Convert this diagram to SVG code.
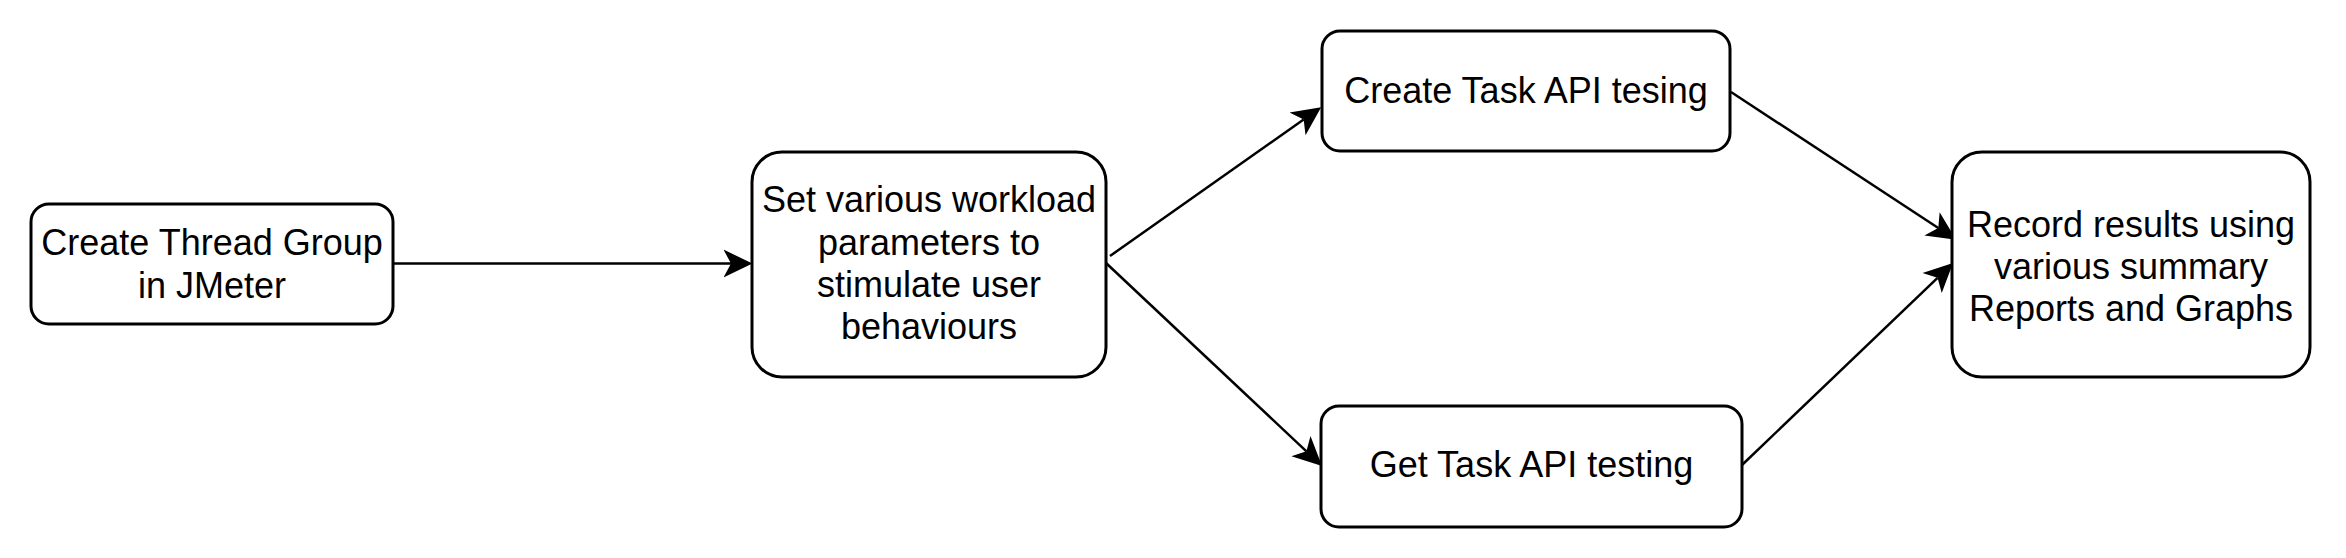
<svg xmlns="http://www.w3.org/2000/svg" width="2346" height="558" viewBox="0 0 2346 558">
<style>
.node rect{fill:#ffffff;stroke:#000000;stroke-width:3}
.node text{font-family:"Liberation Sans",Arial,sans-serif;font-size:36px;fill:#000000;text-anchor:middle}
.edge{fill:none;stroke:#000000;stroke-width:2.5;marker-end:url(#arrow)}
</style>
<defs>
<marker id="arrow" markerUnits="userSpaceOnUse" markerWidth="30" markerHeight="30" viewBox="0 -14 28 28" refX="7" refY="0" orient="auto">
<path d="M27,0 L0,-13 L7,0 L0,13 Z" fill="#000000" stroke="none"/>
</marker>
</defs>
<rect width="2346" height="558" fill="#ffffff"/>
<g id="connectors">
<line class="edge" x1="393" y1="263.5" x2="731" y2="263.5"/>
<line class="edge" x1="1110" y1="256" x2="1303.65" y2="119.52"/>
<line class="edge" x1="1106" y1="263" x2="1306.42" y2="451.31"/>
<line class="edge" x1="1731" y1="92" x2="1938.28" y2="228.03"/>
<line class="edge" x1="1742" y1="465" x2="1937.55" y2="277.83"/>
</g>
<g id="node-thread-group" class="node">
<rect x="31" y="204" width="362" height="120" rx="18"/>
<text x="212" y="255">Create Thread Group</text>
<text x="212" y="298">in JMeter</text>
</g>
<g id="node-workload" class="node">
<rect x="752" y="152" width="354" height="225" rx="30"/>
<text x="929" y="212">Set various workload</text>
<text x="929" y="255">parameters to</text>
<text x="929" y="297">stimulate user</text>
<text x="929" y="339">behaviours</text>
</g>
<g id="node-create-task" class="node">
<rect x="1322" y="31" width="408" height="120" rx="18"/>
<text x="1526" y="103">Create Task API tesing</text>
</g>
<g id="node-get-task" class="node">
<rect x="1321" y="406" width="421" height="121" rx="18"/>
<text x="1531.5" y="477">Get Task API testing</text>
</g>
<g id="node-record" class="node">
<rect x="1952" y="152" width="358" height="225" rx="30"/>
<text x="2131" y="237">Record results using</text>
<text x="2131" y="279">various summary</text>
<text x="2131" y="321">Reports and Graphs</text>
</g>
</svg>
